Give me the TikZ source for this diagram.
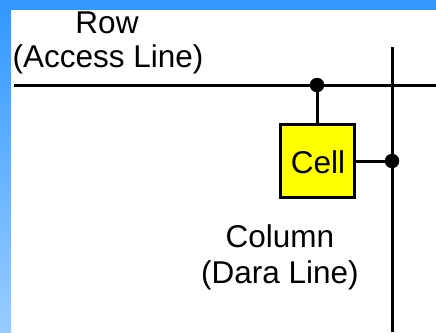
\documentclass[tikz,border=0pt]{standalone}
\usepackage{fontspec}
\setmainfont{Liberation Sans}
\usepackage{tikz}
\usepackage{xcolor}
\definecolor{barblue}{RGB}{51,153,255}
\definecolor{barlight}{RGB}{153,204,255}
\definecolor{cellyellow}{RGB}{255,255,0}
\tikzset{
wire/.style={
 draw=black, 
 line width=3pt
 },
cellbox/.style={
 draw=black, 
 line width=3pt, 
 fill=cellyellow, 
 minimum width=74pt, 
 minimum height=73pt, 
 inner sep=0pt
 },
label/.style={
 inner sep=0pt, 
 anchor=base, 
 font=\fontsize{31.5}{36}\selectfont
 }
}
\begin{document}
\begin{tikzpicture}[x=1pt,y=-1pt]
\useasboundingbox (0,0) rectangle (436,332);
\fill[barblue] (0,0) rectangle (436,10);
\shade[top color=barblue,bottom color=barlight] (0,10) rectangle (11,332);
\coordinate (rowstart) at (14,85);
\coordinate (rowend) at (436,85);
\coordinate (rowdot) at (317,85);
\coordinate (coltop) at (392,47);
\coordinate (colbot) at (392,332);
\coordinate (coldot) at (392,161);
\node[cellbox] (cell) at (317,161) {};
\node[label] (celltext) at (318,173) {Cell};
\node[label] (rowname) at (107,33) {Row};
\node[label] (rowsub) at (108,67) {(Access Line)};
\node[label] (colname) at (280,247) {Column};
\node[label] (colsub) at (280,283) {(Dara Line)};
\draw[wire] (rowstart) -- (rowend);
\draw[wire] (coltop) -- (colbot);
\draw[wire] (rowdot) -- (cell.north);
\draw[wire] (cell.east) -- (coldot);
\filldraw (rowdot) circle (7);
\filldraw (coldot) circle (7);
\end{tikzpicture}
\end{document}
